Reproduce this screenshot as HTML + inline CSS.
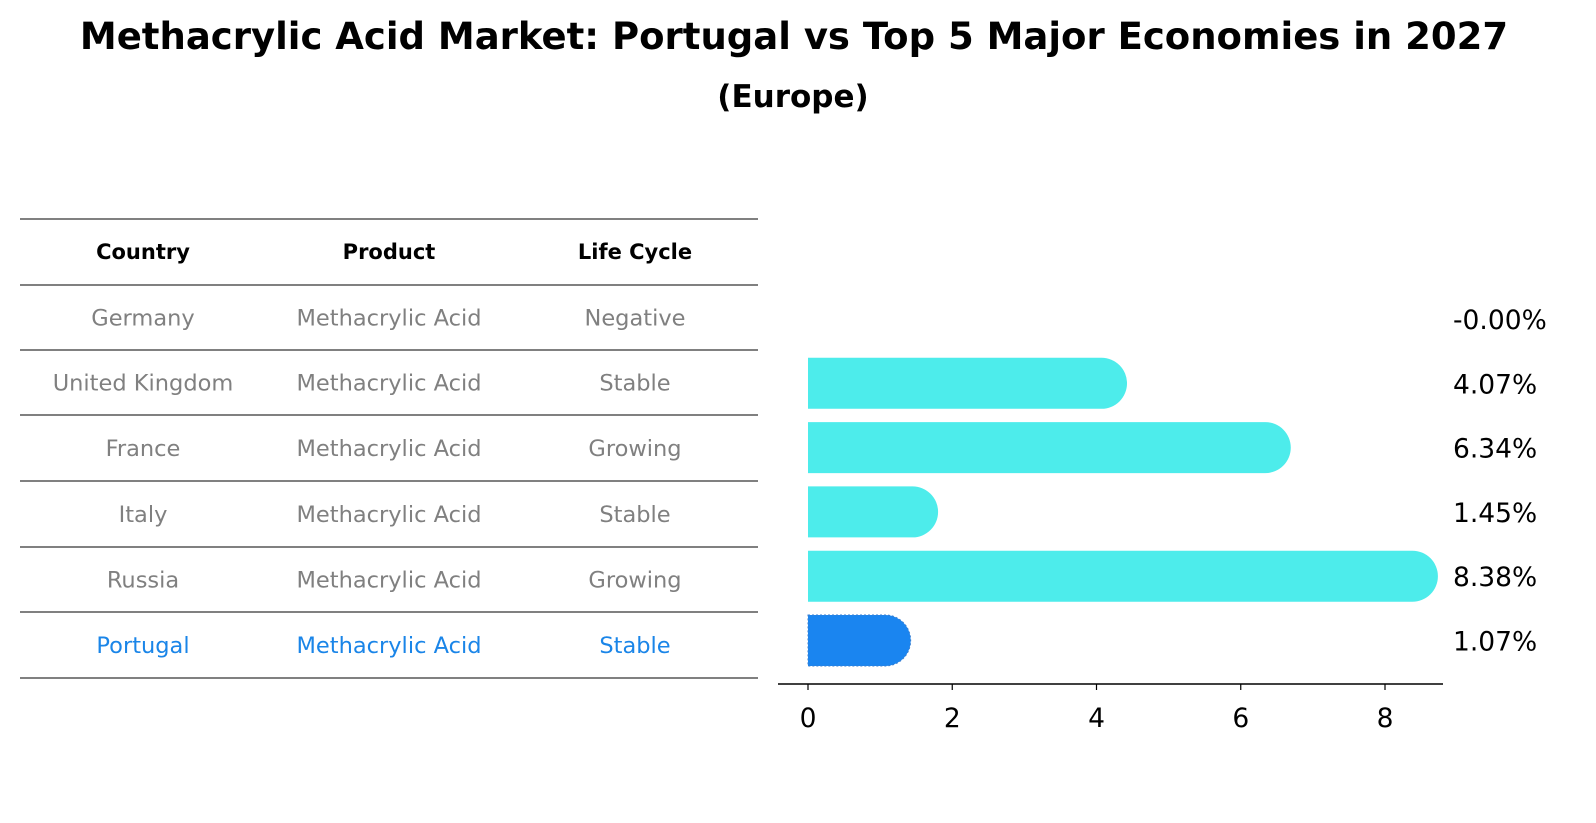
<!DOCTYPE html>
<html><head><meta charset="utf-8"><style>
body{margin:0;background:#fff;font-family:"Liberation Sans","DejaVu Sans",sans-serif;}
#wrap{position:relative;width:1596px;height:823px;overflow:hidden;}
</style></head><body>
<div id="wrap">
<svg id="svg" width="1596" height="823" style="position:absolute;left:0;top:0">
<text x="794" y="49" text-anchor="middle" font-size="37" font-weight="bold" font-family="'DejaVu Sans',sans-serif">Methacrylic Acid Market: Portugal vs Top 5 Major Economies in 2027</text>
<text x="793" y="107" text-anchor="middle" font-size="31" font-weight="bold" font-family="'DejaVu Sans',sans-serif">(Europe)</text>
</svg>
</div>
<script>
const countries=["Germany","United Kingdom","France","Italy","Russia","Portugal"];
const products=["Methacrylic Acid","Methacrylic Acid","Methacrylic Acid","Methacrylic Acid","Methacrylic Acid","Methacrylic Acid"];
const lifeCycles=["Negative","Stable","Growing","Stable","Growing","Stable"];
const growth=[-0.00,4.07,6.34,1.45,8.38,1.07];
const labels=["-0.00%","4.07%","6.34%","1.45%","8.38%","1.07%"];
const ticks=[0,2,4,6,8];
const NS="http://www.w3.org/2000/svg";
const svg=document.getElementById('svg');
function mk(tag,a,name,txt){const e=document.createElementNS(NS,tag);for(const k in a)e.setAttribute(k,a[k]);


if(txt!==undefined)e.textContent=txt;svg.appendChild(e);return e;}
const FONT="'DejaVu Sans','Liberation Sans',sans-serif";
const lineYs=[219,285,350,415,481,547,612,678];
const colX=[143,389,635];
lineYs.forEach((y,i)=>mk('line',{x1:20,x2:758,y1:y,y2:y,stroke:'#000','stroke-width':1},'table-rule-'+i));
["Country","Product","Life Cycle"].forEach((h,i)=>mk('text',{x:colX[i],y:259,'text-anchor':'middle','font-size':21,'font-weight':'bold','font-family':FONT},'table-header-'+h.toLowerCase().replace(' ','-'),h));
countries.forEach((c,i)=>{const y=(lineYs[i+1]+lineYs[i+2])/2+8;const col=i==5?'#1a85e8':'#808080';
[c,products[i],lifeCycles[i]].forEach((v,j)=>mk('text',{x:colX[j],y:y,'text-anchor':'middle','font-size':22.5,fill:col,'font-family':FONT},'table-cell-'+i+'-'+j,v));});
const x0=808,ppu=(1385-808)/8;const X=v=>x0+v*ppu;
const rowY=i=>319+i*64.3;const bh=51,r=25.5;
growth.forEach((v,i)=>{const cy=rowY(i);const col=i==5?'#1a85f0':'#4deceb';
if(v>0){const xe=X(v);
mk('path',{d:`M${x0},${cy-bh/2}H${xe}A${r},${r} 0 0 1 ${xe},${cy+bh/2}H${x0}Z`,fill:col,stroke:i==5?'#3a7fd0':'none','stroke-dasharray':i==5?'2,2':'none'},'bar-'+countries[i].toLowerCase().replace(' ','-'));}
mk('text',{x:1453,y:cy+10,'font-size':26.5,'font-family':FONT},'value-label-'+i,labels[i]);});
mk('line',{x1:778,x2:1443,y1:684,y2:684,stroke:'#000','stroke-width':1.5},'x-axis-line');
ticks.forEach(t=>{mk('line',{x1:X(t),x2:X(t),y1:684,y2:690,stroke:'#000','stroke-width':1.2},'x-tick-'+t);
mk('text',{x:X(t),y:727,'text-anchor':'middle','font-size':26.5,'font-family':FONT},'x-tick-label-'+t,String(t));});
</script>
</body></html>
